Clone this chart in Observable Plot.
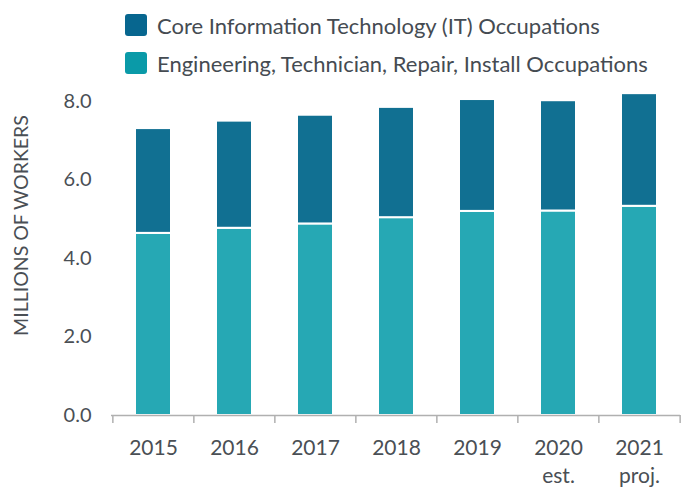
<!DOCTYPE html>
<html><head><meta charset="utf-8">
<script src="https://cdn.jsdelivr.net/npm/d3@7"></script>
<script src="https://cdn.jsdelivr.net/npm/@observablehq/plot@0.6"></script>
<style>
body{margin:0;background:#fff;font-family:Lato,sans-serif;}
#legend{position:relative;height:86px;width:686px;}
.item{position:absolute;left:125px;height:22px;display:flex;align-items:center;font-size:22px;color:#454b52;white-space:nowrap;}
.sw{width:22px;height:22px;border-radius:3px;margin-right:10px;flex:none;}
#chart svg{display:block;}
</style></head><body>
<div id="legend"></div>
<div id="chart"></div>
<script>
const years = ["2015","2016","2017","2018","2019","2020","2021"];
const yearLabels = ["2015","2016","2017","2018","2019","2020\nest.","2021\nproj."];
const seriesNames = ["Core Information Technology (IT) Occupations","Engineering, Technician, Repair, Install Occupations"];
const itValues  = [2.67, 2.73, 2.77, 2.81, 2.85, 2.81, 2.87];
const engValues = [4.64, 4.77, 4.88, 5.04, 5.20, 5.21, 5.33];
const yTicks = [0, 2, 4, 6, 8];
const yTitle = "MILLIONS OF WORKERS";
const barColors = ["#117092", "#26a8b4"];
const swatchColors = ["#07668f", "#0a9aa8"];

const rows = [
  ...years.map((y,i)=>({year:y, series:seriesNames[1], value:engValues[i]})),
  ...years.map((y,i)=>({year:y, series:seriesNames[0], value:itValues[i]}))
];
const labelMap = Object.fromEntries(years.map((y,i)=>[y, yearLabels[i]]));

// legend
const leg = document.getElementById("legend");
seriesNames.forEach((name,i)=>{
  const d = document.createElement("div");
  d.className = "item";
  d.style.top = (i===0 ? 14 : 52) + "px";
  d.innerHTML = `<span class="sw" style="background:${swatchColors[i]}"></span><span>${name}</span>`;
  leg.appendChild(d);
});

const W = 686, ML = 111, MR = 6;
const step = (W - ML - MR) / years.length;
const gray = "#b0b0b0";

const chart = Plot.plot({
  width: W, height: 401,
  marginTop: 15, marginBottom: 72, marginLeft: ML, marginRight: MR,
  style: {fontFamily: "Lato, sans-serif", fontSize: "20px", color: "#4a4f55", background: "#fff"},
  x: {domain: years, paddingInner: 0.56, paddingOuter: 0.28, label: null},
  y: {domain: [0, 8], label: null},
  color: {domain: seriesNames, range: barColors},
  marks: [
    Plot.barY(rows, {x: "year", y: "value", fill: "series", stroke: "#fff", strokeWidth: 2}),
    Plot.ruleY([0], {stroke: gray, strokeWidth: 1.5}),
    Plot.axisY({ticks: yTicks, tickFormat: d3.format(".1f"), tickSize: 0, tickPadding: 20, fontSize: 20, label: null}),
    Plot.axisX({tickSize: 0, tickPadding: 19, tickFormat: d => labelMap[d], lineHeight: 1.36, fontSize: 21, label: null}),
    Plot.axisX({tickSize: 8, dx: -step/2, tickFormat: () => "", stroke: gray, strokeWidth: 1.5, label: null}),
    Plot.axisX({ticks: [years[years.length-1]], tickSize: 8, dx: step/2, tickFormat: () => "", stroke: gray, strokeWidth: 1.5, label: null}),
    Plot.text([yTitle], {frameAnchor: "left", textAnchor: "middle", lineAnchor: "middle", rotate: -90, dx: -90, dy: -33, fontSize: 19.5})
  ]
});
document.getElementById("chart").appendChild(chart);
</script>
</body></html>
